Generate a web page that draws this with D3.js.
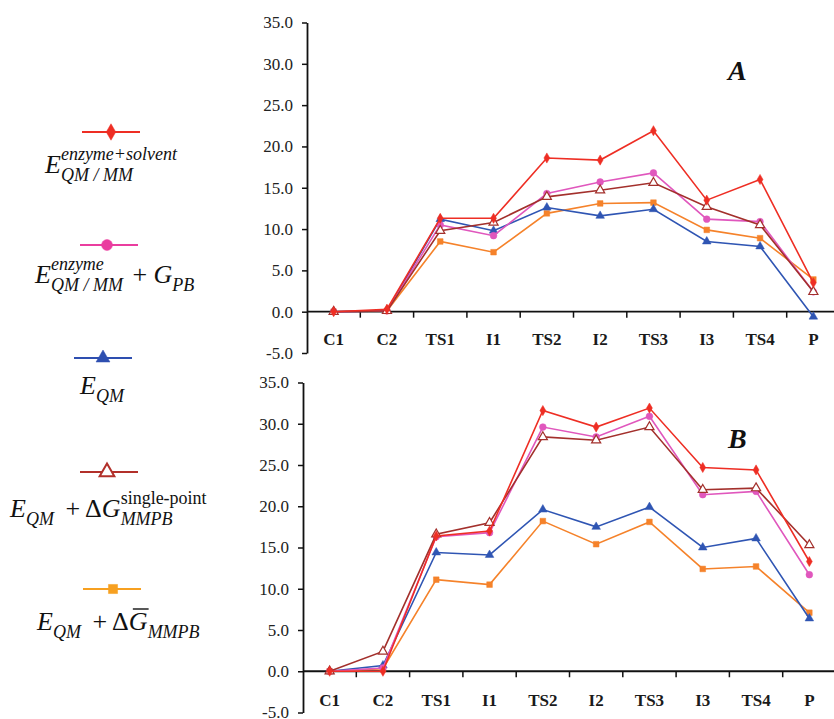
<!DOCTYPE html>
<html>
<head>
  <meta charset="utf-8">
  <title>Energy profiles A / B</title>
  <style>
    body { margin: 0; background: #fff; }
    svg, svg text { font-family: "Liberation Serif", "DejaVu Serif", "Times New Roman", Times, serif !important; }
  </style>
</head>
<body>
<script src="https://cdnjs.cloudflare.com/ajax/libs/d3/7.8.5/d3.min.js"></script>
<div id="vis"></div>
<script>

// categories along the reaction path
var stages = ["C1", "C2", "TS1", "I1", "TS2", "I2", "TS3", "I3", "TS4", "P"];
var yTicks = [-5, 0, 5, 10, 15, 20, 25, 30, 35];

// panel A values (kcal/mol)
var aSolv   = [0, 0.3, 11.3, 11.3, 18.6, 18.35, 21.9, 13.5, 16.0, 3.5];
var aPB     = [0, 0.1, 10.5, 9.2, 14.3, 15.7, 16.8, 11.2, 10.9, 2.4];
var aQM     = [0, 0.1, 11.2, 9.8, 12.6, 11.6, 12.4, 8.5, 7.9, -0.6];
var aSingle = [0, 0.1, 9.8, 10.8, 13.9, 14.7, 15.6, 12.7, 10.5, 2.4];
var aAvg    = [0, 0.1, 8.5, 7.2, 11.9, 13.1, 13.2, 9.9, 8.9, 3.9];

// panel B values
var bSolv   = [0, 0.0, 16.4, 17.0, 31.6, 29.6, 31.9, 24.7, 24.4, 13.3];
var bPB     = [0, 0.4, 16.3, 16.8, 29.6, 28.4, 30.9, 21.4, 21.8, 11.7];
var bQM     = [0, 0.7, 14.4, 14.1, 19.6, 17.5, 19.9, 15.0, 16.1, 6.4];
var bSingle = [0, 2.4, 16.6, 18.0, 28.4, 28.0, 29.6, 22.0, 22.2, 15.3];
var bAvg    = [0, 0.3, 11.1, 10.5, 18.2, 15.4, 18.1, 12.4, 12.7, 7.1];

var SERIF = "'Liberation Serif', 'DejaVu Serif', 'Times New Roman', serif";

var styles = {
  solv:   {color: "#ee2e24", shape: d3.symbolDiamond, size: 30, fill: true},
  pb:     {color: "#e057bd", shape: d3.symbolCircle, size: 36, fill: true},
  qm:     {color: "#2f55b3", shape: d3.symbolTriangle, size: 32, fill: true},
  single: {color: "#a3302c", shape: d3.symbolTriangle, size: 36, fill: false},
  avg:    {color: "#f5822a", shape: d3.symbolSquare, size: 32, fill: true}
};
var legendColors = {solv: "#ee2e24", pb: "#ea3d9f", qm: "#2e4fb0", single: "#b2302a", avg: "#f7a020"};

var W = 834, H = 719;
var svg = d3.select("#vis").append("svg").attr("width", W).attr("height", H)
  .attr("font-family", SERIF);

var fmt = d3.formatLocale({decimal: ".", thousands: ",", grouping: [3], currency: ["", ""], minus: "-"}).format(".1f");

function panel(opts) {
  var x = d3.scaleBand().domain(stages).range([opts.left, opts.left + 53.3 * stages.length]);
  var y = d3.scaleLinear().domain([-5, 35]).range([opts.bottom, opts.top]);
  var g = svg.append("g");

  // y axis
  var ya = g.append("g").attr("transform", "translate(" + opts.left + ",0)")
    .call(d3.axisLeft(y).tickValues(yTicks).tickFormat(fmt).tickSize(5).tickSizeOuter(0).tickPadding(9));
  ya.attr("font-family", SERIF);
  ya.select(".domain").attr("stroke", "#111").attr("stroke-width", 1.8);
  ya.selectAll(".tick line").attr("stroke", "#111").attr("stroke-width", 1.5);
  ya.selectAll(".tick text").attr("font-size", 17).attr("fill", "#222")
    .attr("font-family", SERIF);

  // x axis along zero
  var y0 = y(0);
  g.append("line").attr("x1", opts.left).attr("x2", x.range()[1])
    .attr("y1", y0).attr("y2", y0).attr("stroke", "#111").attr("stroke-width", 1.8);
  g.selectAll("line.xtick").data(stages).enter().append("line")
    .attr("class", "xtick")
    .attr("x1", function(d) { return x(d) + x.bandwidth(); })
    .attr("x2", function(d) { return x(d) + x.bandwidth(); })
    .attr("y1", y0).attr("y2", y0 + 6)
    .attr("stroke", "#111").attr("stroke-width", 1.5);
  g.selectAll("text.xlab").data(stages).enter().append("text")
    .attr("class", "xlab")
    .attr("x", function(d) { return x(d) + x.bandwidth() / 2; })
    .attr("y", y0 + opts.labOff)
    .attr("text-anchor", "middle")
    .attr("font-family", SERIF)
    .attr("font-size", 17).attr("font-weight", "bold").attr("fill", "#1a1a1a")
    .text(function(d) { return d; });

  var line = d3.line()
    .x(function(d, i) { return x(stages[i]) + x.bandwidth() / 2; })
    .y(function(d) { return y(d); });

  opts.series.forEach(function(s) {
    var st = styles[s.key];
    g.append("path").datum(s.values)
      .attr("d", line).attr("fill", "none")
      .attr("stroke", st.color).attr("stroke-width", 1.6);
    g.selectAll("path.m-" + s.key).data(s.values).enter().append("path")
      .attr("class", "m-" + s.key)
      .attr("d", d3.symbol().type(st.shape).size(st.size))
      .attr("transform", function(d, i) {
        return "translate(" + (x(stages[i]) + x.bandwidth() / 2) + "," + y(d) + ")";
      })
      .attr("fill", st.fill ? st.color : "#fff")
      .attr("stroke", st.color).attr("stroke-width", st.fill ? 0.5 : 1.2);
  });

  svg.append("text").attr("x", 728).attr("y", opts.letterY)
    .attr("font-family", SERIF)
    .attr("font-size", 28).attr("font-weight", "bold").attr("font-style", "italic")
    .attr("fill", "#111").text(opts.letter);
}

panel({left: 307, top: 22.5, bottom: 353, labOff: 33, letter: "A", letterY: 80,
  series: [
    {key: "avg", values: aAvg}, {key: "qm", values: aQM}, {key: "pb", values: aPB},
    {key: "single", values: aSingle}, {key: "solv", values: aSolv}
  ]});

panel({left: 303, top: 382.5, bottom: 712.5, labOff: 35, letter: "B", letterY: 448,
  series: [
    {key: "avg", values: bAvg}, {key: "qm", values: bQM}, {key: "pb", values: bPB},
    {key: "single", values: bSingle}, {key: "solv", values: bSolv}
  ]});

// legend
var legend = [
  {key: "solv", ly: 132, lx: 82, mx: 111, tx: 45, ty: 173,
   parts: [{t: "E", it: true}, {t: "enzyme+solvent", it: true, sup: true}, {t: "QM / MM", it: true, sub: true}]},
  {key: "pb", ly: 245, lx: 80, mx: 107, tx: 35, ty: 283,
   parts: [{t: "E", it: true}, {t: "enzyme", it: true, sup: true}, {t: "QM / MM", it: true, sub: true},
           {t: " + ", gap: 2}, {t: "G", it: true}, {t: "PB", it: true, sub: true, alone: true}]},
  {key: "qm", ly: 358, lx: 74, mx: 103, tx: 80, ty: 394,
   parts: [{t: "E", it: true}, {t: "QM", it: true, sub: true, alone: true}]},
  {key: "single", ly: 472, lx: 80, mx: 107, tx: 10, ty: 517,
   parts: [{t: "E", it: true}, {t: "QM", it: true, sub: true, alone: true}, {t: " + \u0394", gap: 4},
           {t: "G", it: true}, {t: "single-point", sup: true}, {t: "MMPB", it: true, sub: true}]},
  {key: "avg", ly: 589, lx: 83, mx: 113, tx: 37, ty: 630,
   parts: [{t: "E", it: true}, {t: "QM", it: true, sub: true, alone: true}, {t: " + \u0394", gap: 4},
           {t: "G", it: true, bar: true}, {t: "MMPB", it: true, sub: true, alone: true}]}
];

legend.forEach(function(L) {
  var st = styles[L.key], c = legendColors[L.key];
  svg.append("line").attr("x1", L.lx).attr("x2", L.lx + 58)
    .attr("y1", L.ly).attr("y2", L.ly).attr("stroke", c).attr("stroke-width", 2.2);
  svg.append("path")
    .attr("d", d3.symbol().type(st.shape).size(st.size * 2.6))
    .attr("transform", "translate(" + L.mx + "," + L.ly + ")")
    .attr("fill", st.fill ? c : "#fff").attr("stroke", c).attr("stroke-width", st.fill ? 0.5 : 2);

  var cx = L.tx, scriptX = null, scriptW = 0;
  L.parts.forEach(function(p) {
    var small = p.sup || p.sub;
    if (small && scriptX === null) scriptX = cx;
    if (!small && scriptX !== null) { cx = scriptX + scriptW; scriptX = null; scriptW = 0; }
    var t = svg.append("text")
      .attr("x", small ? scriptX : cx + (p.gap || 0))
      .attr("y", L.ty + (p.sup ? -13 : p.sub ? 8 : 0))
      .attr("font-family", SERIF)
      .attr("font-size", small ? 18 : 26)
      .attr("font-style", p.it ? "italic" : "normal")
      .attr("fill", "#111")
      .style("white-space", "pre")
      .text(p.t);
    var w = t.node().getComputedTextLength();
    if (p.bar) {
      svg.append("line").attr("x1", cx + 4).attr("x2", cx + w + 1)
        .attr("y1", L.ty - 21).attr("y2", L.ty - 21).attr("stroke", "#111").attr("stroke-width", 1.4);
    }
    if (small) {
      scriptW = Math.max(scriptW, w + 1);
      if (p.alone) { cx = scriptX + scriptW; }
    } else {
      cx += w + (p.gap || 0);
    }
  });
});

</script>
</body>
</html>
